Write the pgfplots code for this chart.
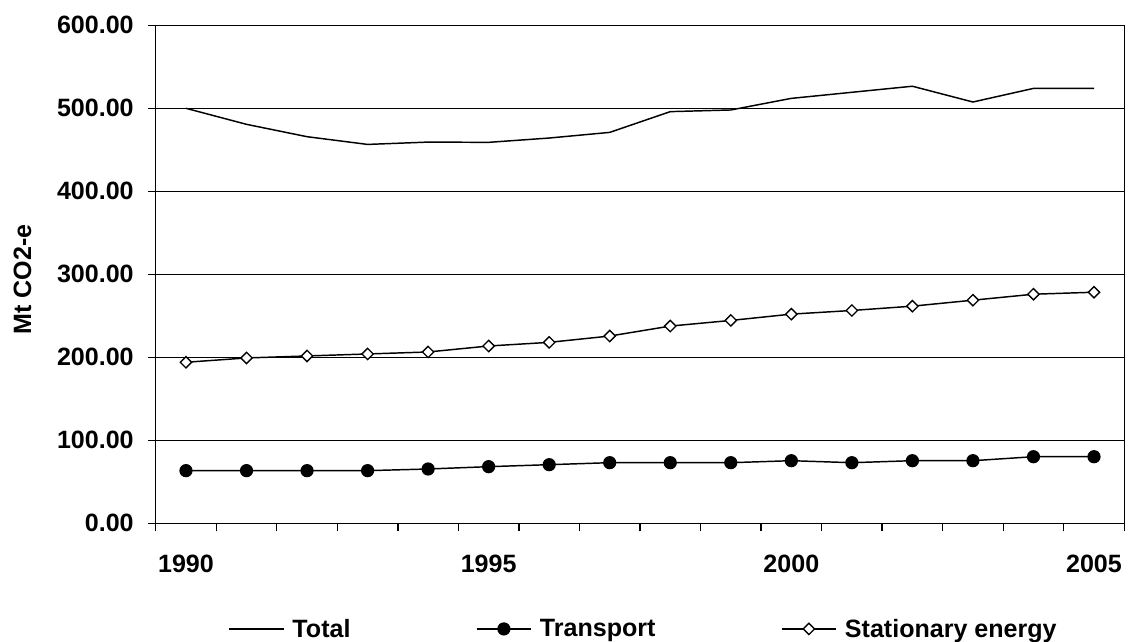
\documentclass[border=0pt]{standalone}
\usepackage{pgfplots}
\pgfplotsset{compat=1.18}
\usepackage{pgfplotstable}
\usepackage{fontspec}
\setmainfont{Liberation Sans}
\pgfplotstableread{
idx total transport stationary
0  500.0 63.4 194.0
1  480.7 63.4 199.2
2  465.8 63.4 201.6
3  456.5 63.4 204.0
4  459.3 65.4 206.4
5  459.0 68.2 213.6
6  464.2 70.6 218.0
7  471.0 73.0 225.6
8  496.0 73.0 237.6
9  498.0 73.0 244.4
10 512.0 75.4 252.0
11 519.3 73.0 256.4
12 526.6 75.4 261.6
13 507.6 75.4 268.8
14 524.0 80.2 276.0
15 524.0 80.2 278.4
}\datatable
\newcommand{\chartfont}{\fontsize{18.8}{22}\selectfont\bfseries}
\begin{document}
\begin{tikzpicture}
\useasboundingbox (-116.8pt,-89pt) rectangle (729.3pt,392.5pt);
\begin{axis}[
  scale only axis, width=726.5pt, height=373.5pt,
  at={(0,0)}, anchor=south west,
  xmin=-0.5, xmax=15.5, ymin=0, ymax=600,
  ytick={0,100,...,600},
  xtick={-0.5,0.5,...,15.5}, xticklabels={},
  extra x ticks={0,5,10,15}, extra x tick labels={1990,1995,2000,2005},
  extra x tick style={major tick length=0pt, grid=none, tick label style={yshift=-20pt}},
  ymajorgrids, grid style={black, line width=1pt},
  axis line style={black, line width=1pt},
  tick style={black, line width=1pt},
  tick align=outside, major tick length=6pt,
  xtick pos=bottom, ytick pos=left,
  /pgf/number format/assume math mode=true,
  tick label style={font=\chartfont},
  y tick label style={/pgf/number format/fixed, /pgf/number format/fixed zerofill, /pgf/number format/precision=2, xshift=-7pt},
  ylabel={Mt CO2-e},
  ylabel style={at={(axis description cs:-0.1375,0.49)}, anchor=center, font=\chartfont},
  legend columns=3,
  legend image code/.code={\draw[mark repeat=2,mark phase=2,#1] plot coordinates {(0pt,0pt) (20.5pt,0pt) (41pt,0pt)}; \path (45pt,0pt);},
  legend style={at={(0.504,-0.2122)}, anchor=center, draw=none, fill=none,
    font=\chartfont,
    /tikz/every even column/.append style={column sep=92pt}},
]
\addplot[black, line width=1.1pt] table[x=idx, y=total] {\datatable};
\addlegendentry{Total}
\addplot[black, line width=1.1pt, mark=*, mark size=4.4pt, mark options={fill=black, solid}] table[x=idx, y=transport] {\datatable};
\addlegendentry{Transport}
\addplot[black, line width=1.1pt, mark=square*, mark size=3pt, mark options={fill=white, solid, line width=1pt, rotate=45}] table[x=idx, y=stationary] {\datatable};
\addlegendentry{Stationary energy}
\end{axis}
\end{tikzpicture}
\end{document}
